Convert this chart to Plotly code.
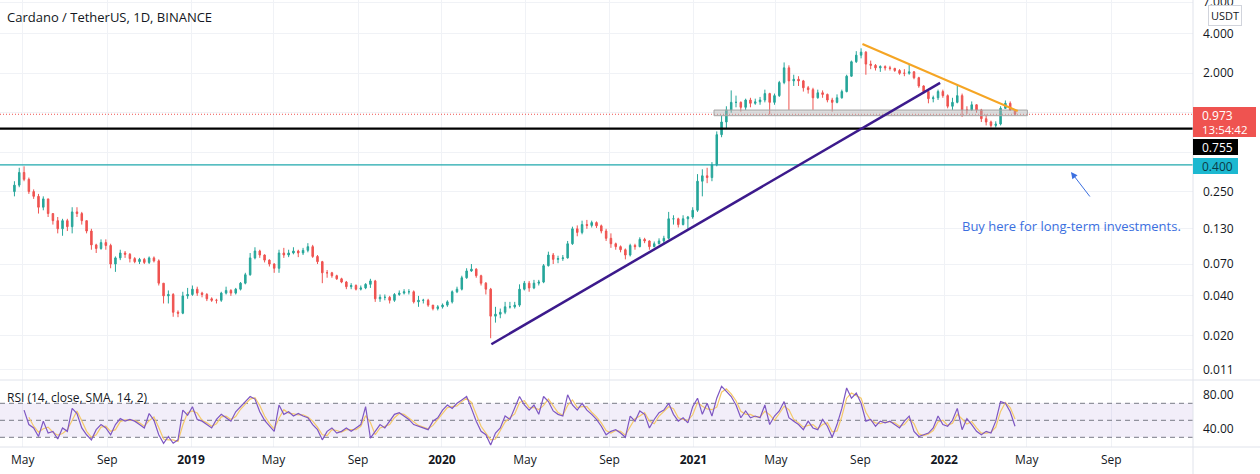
import numpy as np
import pandas as pd
import plotly.graph_objects as go

# ---------------- data (weekly) ----------------
first_open = 0.25
close = [0.28, 0.35, 0.31, 0.25, 0.23, 0.19, 0.22, 0.17, 0.15, 0.13,
         0.15, 0.135, 0.175, 0.17, 0.15, 0.125, 0.098, 0.092, 0.102, 0.097,
         0.07, 0.078, 0.085, 0.083, 0.077, 0.073, 0.076, 0.072, 0.078, 0.074,
         0.05, 0.04, 0.041, 0.03, 0.0295, 0.04, 0.041, 0.045, 0.042, 0.041,
         0.038, 0.037, 0.037, 0.042, 0.044, 0.042, 0.045, 0.05, 0.058, 0.078,
         0.088, 0.082, 0.075, 0.07, 0.065, 0.085, 0.082, 0.085, 0.088, 0.085,
         0.089, 0.095, 0.08, 0.073, 0.06, 0.06, 0.057, 0.054, 0.051, 0.047,
         0.048, 0.045, 0.046, 0.049, 0.052, 0.038, 0.039, 0.039, 0.037, 0.041,
         0.042, 0.043, 0.043, 0.036, 0.037, 0.037, 0.034, 0.032, 0.033, 0.034,
         0.036, 0.043, 0.045, 0.055, 0.062, 0.064, 0.057, 0.05, 0.045, 0.028,
         0.029, 0.030, 0.033, 0.033, 0.034, 0.045, 0.05, 0.046, 0.05, 0.051,
         0.068, 0.082, 0.076, 0.077, 0.078, 0.1, 0.13, 0.122, 0.14, 0.138,
         0.145, 0.137, 0.125, 0.11, 0.1, 0.095, 0.09, 0.082, 0.097, 0.095,
         0.108, 0.105, 0.095, 0.1, 0.105, 0.11, 0.155, 0.155, 0.14, 0.155,
         0.16, 0.18, 0.30, 0.33, 0.32, 0.40, 0.68, 0.85, 1.05, 1.2,
         1.2, 1.1, 1.25, 1.18, 1.21, 1.25, 1.4, 1.2, 1.35, 1.7,
         2.2, 1.75, 1.8, 1.75, 1.55, 1.5, 1.3, 1.42, 1.38, 1.25,
         1.2, 1.3, 1.45, 1.9, 2.45, 2.75, 2.9, 2.35, 2.3, 2.2,
         2.25, 2.2, 2.18, 2.1, 2.0, 2.0, 2.05, 1.85, 1.6, 1.45,
         1.28, 1.3, 1.45, 1.35, 1.12, 1.2, 1.35, 1.05, 1.05, 1.15,
         1.05, 0.9, 0.85, 0.8, 0.82, 1.08, 1.18, 1.05, 0.973]
high = [0.30, 0.38, 0.39, 0.32, 0.26, 0.24, 0.23, 0.22, 0.17, 0.16,
        0.155, 0.155, 0.19, 0.19, 0.175, 0.15, 0.13, 0.10, 0.108, 0.108,
        0.1, 0.08, 0.09, 0.088, 0.085, 0.079, 0.078, 0.078, 0.08, 0.08,
        0.076, 0.05, 0.044, 0.042, 0.031, 0.043, 0.046, 0.048, 0.047, 0.043,
        0.042, 0.039, 0.038, 0.043, 0.047, 0.045, 0.046, 0.051, 0.06, 0.085,
        0.094, 0.09, 0.083, 0.076, 0.071, 0.09, 0.093, 0.09, 0.094, 0.09,
        0.093, 0.101, 0.098, 0.082, 0.074, 0.063, 0.061, 0.058, 0.055, 0.052,
        0.05, 0.049, 0.048, 0.05, 0.054, 0.053, 0.041, 0.041, 0.04, 0.042,
        0.044, 0.045, 0.045, 0.044, 0.04, 0.038, 0.038, 0.034, 0.034, 0.035,
        0.037, 0.044, 0.047, 0.057, 0.065, 0.07, 0.065, 0.058, 0.051, 0.046,
        0.033, 0.032, 0.036, 0.036, 0.036, 0.049, 0.052, 0.052, 0.053, 0.053,
        0.07, 0.087, 0.085, 0.081, 0.082, 0.105, 0.135, 0.138, 0.15, 0.152,
        0.15, 0.148, 0.14, 0.13, 0.12, 0.102, 0.097, 0.092, 0.1, 0.1,
        0.112, 0.111, 0.106, 0.104, 0.11, 0.115, 0.175, 0.165, 0.158, 0.165,
        0.163, 0.19, 0.34, 0.37, 0.38, 0.42, 0.72, 0.95, 1.12, 1.48,
        1.35, 1.22, 1.28, 1.3, 1.28, 1.32, 1.5, 1.42, 1.4, 1.75,
        2.42, 2.3, 1.95, 1.9, 1.78, 1.6, 1.55, 1.5, 1.48, 1.4,
        1.3, 1.38, 1.5, 1.95, 2.5, 2.95, 3.1, 2.95, 2.5, 2.35,
        2.3, 2.3, 2.28, 2.2, 2.15, 2.15, 2.33, 2.08, 1.88, 1.62,
        1.5, 1.35, 1.5, 1.5, 1.38, 1.3, 1.65, 1.4, 1.12, 1.22,
        1.16, 1.07, 0.97, 0.87, 0.86, 1.12, 1.24, 1.22, 1.06]
low = [0.23, 0.27, 0.30, 0.24, 0.22, 0.17, 0.18, 0.16, 0.14, 0.12,
       0.115, 0.125, 0.12, 0.16, 0.14, 0.12, 0.09, 0.085, 0.09, 0.09,
       0.065, 0.061, 0.075, 0.078, 0.072, 0.071, 0.07, 0.07, 0.07, 0.072,
       0.048, 0.035, 0.035, 0.0277, 0.0275, 0.029, 0.038, 0.04, 0.04, 0.039,
       0.0365, 0.036, 0.035, 0.036, 0.041, 0.040, 0.041, 0.044, 0.049, 0.057,
       0.076, 0.078, 0.072, 0.067, 0.06, 0.06, 0.078, 0.079, 0.083, 0.079,
       0.082, 0.086, 0.078, 0.07, 0.05, 0.055, 0.055, 0.053, 0.05, 0.045,
       0.045, 0.044, 0.044, 0.045, 0.046, 0.036, 0.036, 0.037, 0.035, 0.036,
       0.04, 0.041, 0.041, 0.035, 0.033, 0.035, 0.033, 0.031, 0.031, 0.032,
       0.033, 0.035, 0.042, 0.044, 0.054, 0.061, 0.055, 0.048, 0.041, 0.019,
       0.025, 0.027, 0.029, 0.032, 0.032, 0.033, 0.044, 0.043, 0.045, 0.048,
       0.05, 0.067, 0.07, 0.071, 0.074, 0.077, 0.098, 0.114, 0.118, 0.13,
       0.133, 0.132, 0.12, 0.105, 0.093, 0.09, 0.086, 0.076, 0.08, 0.09,
       0.094, 0.101, 0.09, 0.094, 0.099, 0.1, 0.108, 0.14, 0.133, 0.138,
       0.13, 0.155, 0.175, 0.23, 0.29, 0.30, 0.39, 0.65, 0.75, 1.0,
       1.1, 1.02, 1.05, 1.1, 1.15, 1.15, 1.2, 0.97, 1.15, 1.32,
       1.65, 1.05, 1.6, 1.6, 1.45, 1.4, 1.05, 1.28, 1.3, 1.2,
       1.02, 1.18, 1.28, 1.43, 1.88, 2.4, 2.6, 1.95, 2.15, 2.1,
       2.05, 2.1, 2.1, 2.05, 1.95, 1.9, 1.95, 1.8, 1.55, 1.4,
       1.18, 1.2, 1.25, 1.3, 1.08, 1.05, 1.18, 0.93, 0.98, 1.03,
       1.0, 0.85, 0.8, 0.77, 0.77, 0.8, 1.07, 1.03, 0.95]
rsi = [None, None, 62, 45, 41, 31, 49, 35, 37, 28,
       41, 37, 64, 58, 41, 33, 27, 39, 45, 41,
       33, 45, 52, 49, 51, 49, 45, 41, 58, 50,
       33, 23, 31, 23, 27, 62, 56, 66, 51, 49,
       45, 41, 51, 57, 53, 49, 60, 66, 72, 78,
       75, 60, 50, 43, 37, 68, 57, 60, 55, 58,
       55, 53, 45, 39, 27, 37, 41, 35, 37, 41,
       37, 41, 45, 66, 29, 37, 45, 41, 49, 57,
       59, 55, 51, 45, 43, 41, 39, 49, 53, 62,
       68, 64, 70, 74, 78, 64, 49, 37, 33, 21,
       35, 41, 55, 51, 64, 78, 68, 62, 68, 57,
       78, 72, 61, 57, 55, 80, 68, 62, 70, 62,
       57, 51, 43, 33, 37, 39, 35, 30, 55, 49,
       61, 57, 41, 51, 59, 62, 70, 57, 49, 53,
       47, 66, 76, 57, 70, 55, 76, 90, 84, 78,
       68, 53, 61, 53, 55, 53, 68, 45, 55, 61,
       72, 53, 49, 45, 39, 49, 41, 39, 51, 43,
       30, 45, 64, 88, 76, 82, 70, 49, 51, 43,
       49, 47, 49, 45, 41, 49, 55, 37, 31, 33,
       35, 41, 55, 45, 43, 50, 64, 39, 52, 45,
       37, 33, 37, 35, 49, 72, 70, 60, 43]

dates = pd.date_range("2018-04-19", periods=len(close), freq="7D")
opens = [first_open] + close[:-1]
rsi_ma = pd.Series(rsi, dtype=float).rolling(2).mean()

x_range = ["2018-03-29", "2022-12-29"]
price_ticks = [7, 4, 2, 1, 0.5, 0.25, 0.13, 0.07, 0.04, 0.02, 0.011]
# 1.000 and 0.500 sit under the price-scale labels in the reference
price_tick_text = ["" if v in (1, 0.5) else f"{v:.3f}" for v in price_ticks]
rsi_ticks = [80, 40]
rsi_tick_text = ["80.00", "40.00"]
x_tick_dates = ["2018-05-01", "2018-09-01", "2019-01-01", "2019-05-01", "2019-09-01",
                "2020-01-01", "2020-05-01", "2020-09-01", "2021-01-01", "2021-05-01",
                "2021-09-01", "2022-01-01", "2022-05-01", "2022-09-01"]
x_tick_text = ["May", "Sep", "<b>2019</b>", "May", "Sep", "<b>2020</b>", "May", "Sep",
               "<b>2021</b>", "May", "Sep", "<b>2022</b>", "May", "Sep"]

last_price = 0.973
last_time = "13:54:42"
support_level = 0.755
buy_level = 0.400
up_line_dates = ["2020-03-13", "2021-12-26"]
up_line_prices = [0.0171, 1.69]
down_line_dates = ["2021-09-04", "2022-04-18"]
down_line_prices = [3.34, 1.03]
zone_dates = ["2021-01-31", "2022-05-02"]
zone_prices = [0.949, 1.048]
title_text = "Cardano / TetherUS, 1D, BINANCE"
rsi_title = "RSI (14, close, SMA, 14, 2)"
note_text = "Buy here for long-term investments."

# ---------------- layout geometry (pixels) ----------------
W, H = 1260, 474
PX_R = 1193          # right edge of plot area
PX_B = 447           # bottom of plot area
PANE = 380           # price / RSI separator
split = 1 - PANE / PX_B
FONT = "Open Sans"
TXT = "#131722"
GRID = "#f0f2f6"

def px(x):
    return x / PX_R

def py(y):
    return 1 - y / PX_B

fig = go.Figure()

# ---- RSI pane ----
fig.add_trace(go.Scatter(x=[x_range[0], x_range[1], x_range[1], x_range[0]], y=[30, 30, 70, 70],
                         fill="toself", fillcolor="rgba(126,87,194,0.10)", line=dict(width=0),
                         mode="lines", xaxis="x", yaxis="y", hoverinfo="skip"))
for lvl in [70, 50, 30]:
    fig.add_trace(go.Scatter(x=x_range, y=[lvl, lvl], mode="lines",
                             line=dict(color="#787b86", width=1, dash="5px,4px"),
                             xaxis="x", yaxis="y", hoverinfo="skip"))
fig.add_trace(go.Scatter(x=dates, y=rsi_ma, mode="lines", line=dict(color="#f5c96a", width=1.2),
                         xaxis="x", yaxis="y"))
fig.add_trace(go.Scatter(x=dates, y=rsi, mode="lines", line=dict(color="#7e57c2", width=1.2),
                         xaxis="x", yaxis="y"))

# ---- price pane ----
fig.add_trace(go.Scatter(x=x_range, y=[buy_level, buy_level], mode="lines",
                         line=dict(color="#1fa8ad", width=1.2), xaxis="x2", yaxis="y2"))
fig.add_trace(go.Candlestick(x=dates, open=opens, high=high, low=low, close=close,
                             increasing=dict(line=dict(color="#26a69a", width=1), fillcolor="#26a69a"),
                             decreasing=dict(line=dict(color="#ef5350", width=1), fillcolor="#ef5350"),
                             whiskerwidth=0, xaxis="x2", yaxis="y2"))
fig.add_trace(go.Scatter(x=x_range, y=[last_price, last_price], mode="lines",
                         line=dict(color="#ef5350", width=1, dash="1px,2px"),
                         xaxis="x2", yaxis="y2"))
fig.add_trace(go.Scatter(x=x_range, y=[support_level, support_level], mode="lines",
                         line=dict(color="#000000", width=2.2), xaxis="x2", yaxis="y2"))
fig.add_trace(go.Scatter(x=[zone_dates[0], zone_dates[1], zone_dates[1], zone_dates[0], zone_dates[0]],
                         y=[zone_prices[0], zone_prices[0], zone_prices[1], zone_prices[1], zone_prices[0]],
                         mode="lines", fill="toself", fillcolor="rgba(180,180,180,0.45)",
                         line=dict(color="#a5a5a5", width=1), xaxis="x2", yaxis="y2"))
fig.add_trace(go.Scatter(x=up_line_dates, y=up_line_prices, mode="lines",
                         line=dict(color="#3c1a8c", width=2.5), xaxis="x2", yaxis="y2"))
fig.add_trace(go.Scatter(x=down_line_dates, y=down_line_prices, mode="lines",
                         line=dict(color="#f5a524", width=2.2), xaxis="x2", yaxis="y2"))

# ---------------- shapes ----------------
shapes = []
sep = "#e0e3eb"
xr = W / PX_R
shapes.append(dict(type="line", xref="paper", yref="paper", x0=0, x1=xr, y0=split, y1=split,
                   line=dict(color=sep, width=1)))
shapes.append(dict(type="line", xref="paper", yref="paper", x0=0, x1=xr, y0=0, y1=0,
                   line=dict(color=sep, width=1)))
shapes.append(dict(type="line", xref="paper", yref="paper", x0=1, x1=1, y0=py(H), y1=1,
                   line=dict(color=sep, width=1)))
# price scale labels
shapes.append(dict(type="rect", xref="paper", yref="paper", x0=px(1193), x1=px(1256),
                   y0=py(137), y1=py(107), fillcolor="#ef5350", line=dict(width=0)))
shapes.append(dict(type="rect", xref="paper", yref="paper", x0=px(1193), x1=px(1238),
                   y0=py(155), y1=py(139), fillcolor="#000000", line=dict(width=0)))
shapes.append(dict(type="rect", xref="paper", yref="paper", x0=px(1193), x1=px(1238),
                   y0=py(174), y1=py(158), fillcolor="#1cb8d0", line=dict(width=0)))

ann = []
def label(x, y, text, size=12, color=TXT, anchor="left", **kw):
    ann.append(dict(xref="paper", yref="paper", x=px(x), y=py(y), text=text, showarrow=False,
                    xanchor=anchor, yanchor="middle", font=dict(family=FONT, size=size, color=color), **kw))

label(5, 17, title_text, size=13)
label(5, 397, rsi_title, size=12)
label(1200, 115, f"{last_price:.3f}", color="#ffffff")
label(1200, 129, last_time, size=11.5, color="#ffffff")
label(1200, 147, f"{support_level:.3f}", color="#ffffff")
label(1200, 166, f"{buy_level:.3f}", color="#0d3b45")
label(1225, 16, "USDT", size=11, anchor="center", bgcolor="#ffffff", bordercolor="#d1d4dc",
      borderwidth=1, borderpad=2)
label(1071, 226, note_text, size=13, color="#3b6fe0", anchor="center")
ann.append(dict(xref="paper", yref="paper", x=px(1071), y=py(172), ax=20, ay=26,
                axref="pixel", ayref="pixel", text="", showarrow=True, arrowhead=2,
                arrowsize=1.3, arrowwidth=1, arrowcolor="#3b6fe0"))

fig.update_layout(
    width=W, height=H, margin=dict(l=0, r=W - PX_R, t=0, b=H - PX_B, autoexpand=False),
    paper_bgcolor="#ffffff", plot_bgcolor="#ffffff", showlegend=False,
    font=dict(family=FONT, size=12, color=TXT),
    boxgap=0.55,
    shapes=shapes, annotations=ann,
    xaxis=dict(domain=[0, 1], anchor="y", type="date", range=x_range, automargin=False,
               tickvals=x_tick_dates, ticktext=x_tick_text, showgrid=True, gridcolor=GRID,
               zeroline=False, showline=False, ticks="", ticklabelstandoff=4,
               tickfont=dict(family=FONT, size=12, color=TXT), rangeslider=dict(visible=False)),
    xaxis2=dict(matches="x", anchor="y2", type="date", range=x_range, tickvals=x_tick_dates,
                showticklabels=False, showgrid=True, gridcolor=GRID, zeroline=False,
                automargin=False, rangeslider=dict(visible=False)),
    yaxis=dict(domain=[0, split], anchor="x", range=[18.6, 97.4], side="right", automargin=False,
               tickvals=rsi_ticks, ticktext=rsi_tick_text, showgrid=False, zeroline=False,
               ticks="", ticklabelstandoff=9, tickfont=dict(family=FONT, size=12, color=TXT)),
    yaxis2=dict(domain=[split, 1], anchor="x2", type="log", automargin=False,
                range=[np.log10(0.00912), np.log10(7.25)], side="right",
                tickvals=price_ticks, ticktext=price_tick_text, showgrid=True, gridcolor=GRID,
                zeroline=False, ticks="", ticklabelstandoff=9, ticklabeloverflow="allow",
                tickfont=dict(family=FONT, size=12, color=TXT)),
)

fig.write_html("out.html", config={"displayModeBar": False},
               post_script="document.body.style.margin='0';")
